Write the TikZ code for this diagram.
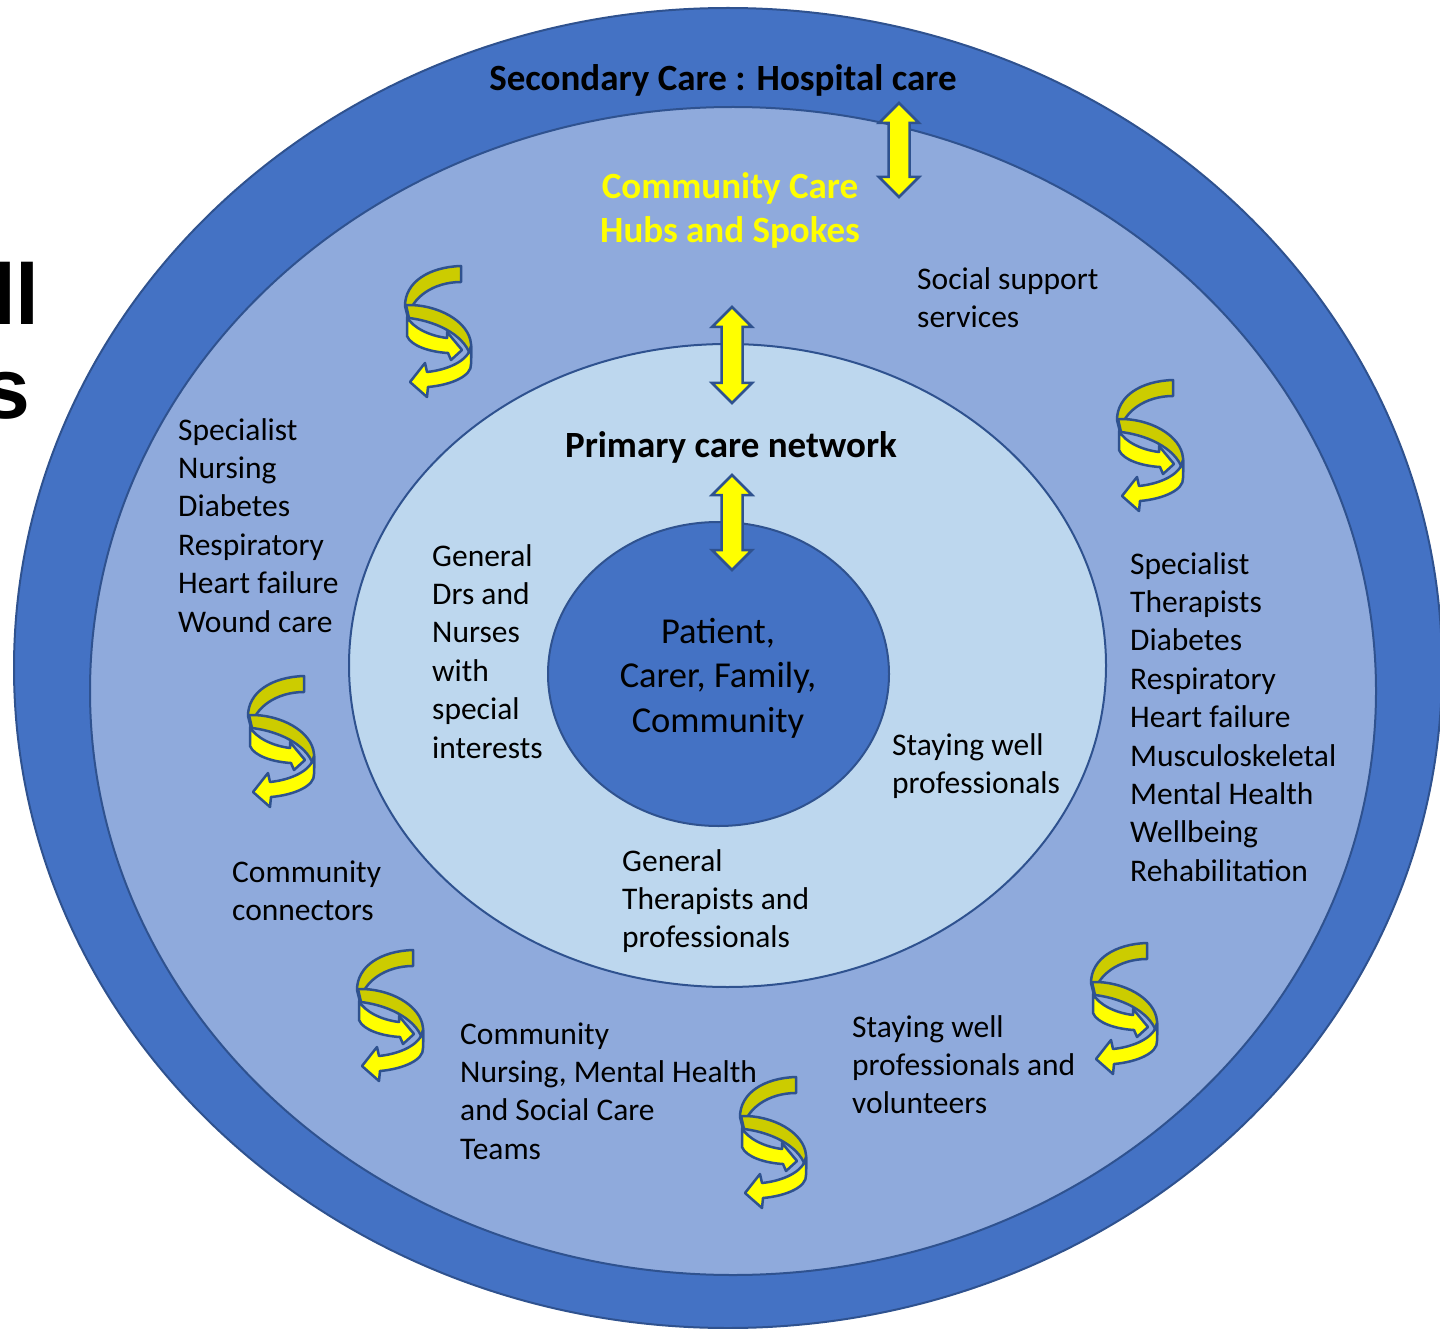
\documentclass[tikz,border=0pt]{standalone}
\usepackage{fontspec}
\setmainfont{Carlito}
\newfontfamily\titlefont{Liberation Sans}
\usetikzlibrary{positioning}

\definecolor{ringdark}{HTML}{4472C4}
\definecolor{ringmid}{HTML}{8FAADC}
\definecolor{ringlight}{HTML}{BDD7EE}
\definecolor{edgeblue}{HTML}{2F528F}
\definecolor{swirlback}{HTML}{CCCC00}
\definecolor{hubyellow}{HTML}{FFFF00}

\tikzset{
  ring/.style={draw=edgeblue, line width=2pt},
  lbl/.style={anchor=north west, align=left, inner sep=0pt, font=\fontsize{31.5}{38.4}\selectfont},
  head/.style={font=\bfseries\fontsize{37}{44}\selectfont, inner sep=0pt},
  swirlline/.style={draw=edgeblue, line width=2.5pt, line join=round},
  arrowline/.style={draw=edgeblue, line width=2.5pt, line join=miter, fill=hubyellow},
  swirl/.pic={
    % back of upper turn
    \draw[swirlline, fill=swirlback] (56,0) .. controls (24,1) and (0,16) .. (0,40) -- (3,52) .. controls (6,32) and (28,16) .. (56,16) -- cycle;
    % back of lower turn
    \draw[swirlline, fill=swirlback] (1,39) .. controls (32,38) and (64,55) .. (66,78) -- (66,92) .. controls (62,72) and (36,56) .. (4,52) -- cycle;
    % front of upper turn
    \draw[swirlline, fill=hubyellow] (2,51) .. controls (8,62) and (25,70) .. (42,72) -- (42,66) -- (57,84) -- (46,94) -- (43,87) .. controls (25,86) and (6,80) .. (2,70) -- cycle;
    % front of lower turn
    \draw[swirlline, fill=hubyellow] (66,80) .. controls (64,95) and (42,104) .. (22,106) -- (20,97) -- (5,116) -- (22,131) -- (23,121) .. controls (46,119) and (67,110) .. (66,98) -- cycle;
  },
  updown/.pic={
    \draw[arrowline] (0,0) -- (20,20) -- (10.5,20) -- (10.5,#1-20) -- (20,#1-20) -- (0,#1)
      -- (-20,#1-20) -- (-10.5,#1-20) -- (-10.5,20) -- (-20,20) -- cycle;
  }
}

\begin{document}
\begin{tikzpicture}[x=1pt, y=-1pt]
  \useasboundingbox (0,0) rectangle (1440,1329);

  % cut-off title letters
  \node[font=\titlefont\bfseries\fontsize{86}{86}\selectfont, anchor=base east, inner sep=0pt] (titlell) at (40,325) {ll};
  \node[font=\titlefont\bfseries\fontsize{86}{86}\selectfont, anchor=base east, inner sep=0pt] (titles) at (31,418) {s};

  % rings
  \draw[ring, fill=ringdark] (728,668) ellipse [x radius=714, y radius=660];
  \draw[ring, fill=ringmid] (733,691) ellipse [x radius=643, y radius=584];
  \draw[ring, fill=ringlight] (727.5,665.5) ellipse [x radius=378.5, y radius=321.5];
  \draw[ring, fill=ringdark] (718.5,674) ellipse [x radius=170.5, y radius=152];

  % swirls
  \pic at (405,266) {swirl};
  \pic at (1117,380) {swirl};
  \pic at (248,676) {swirl};
  \pic at (357,950) {swirl};
  \pic at (740,1077) {swirl};
  \pic at (1091,943) {swirl};

  % two-way arrows
  \pic at (899,103) {updown=94};
  \pic at (732,307) {updown=96};
  \pic at (732,475) {updown=95};

  % labels
  \node[head, anchor=base] (secondary) at (723,91) {Secondary Care : Hospital care};
  \node[head, anchor=north, align=center, text=hubyellow] (hubs) at (730,168) {\strut Community Care\\Hubs and Spokes};
  \node[lbl] (social) at (917,262) {\strut Social support\\services};
  \node[lbl] (nursing) at (178,413) {\strut Specialist\\Nursing\\Diabetes\\Respiratory\\Heart failure\\Wound care};
  \node[head, anchor=base] (primary) at (731,457) {Primary care network};
  \node[lbl] (gpdrs) at (432,539) {\strut General\\Drs and\\Nurses\\with\\special\\interests};
  \node[font=\fontsize{36.5}{44.5}\selectfont, anchor=north, align=center, inner sep=0pt] (patient) at (718,612) {\strut Patient,\\Carer, Family,\\Community};
  \node[lbl] (stayprof) at (892,728) {\strut Staying well\\professionals};
  \node[lbl] (therapists) at (1130,547) {\strut Specialist\\Therapists\\Diabetes\\Respiratory\\Heart failure\\Musculoskeletal\\Mental Health\\Wellbeing\\Rehabilitation};
  \node[lbl] (connectors) at (232,855) {\strut Community\\connectors};
  \node[lbl] (gentherap) at (622,844) {\strut General\\Therapists and\\professionals};
  \node[lbl] (commteams) at (460,1017) {\strut Community\\Nursing, Mental Health\\and Social Care\\Teams};
  \node[lbl] (volunteers) at (852,1010) {\strut Staying well\\professionals and\\volunteers};
\end{tikzpicture}
\end{document}
